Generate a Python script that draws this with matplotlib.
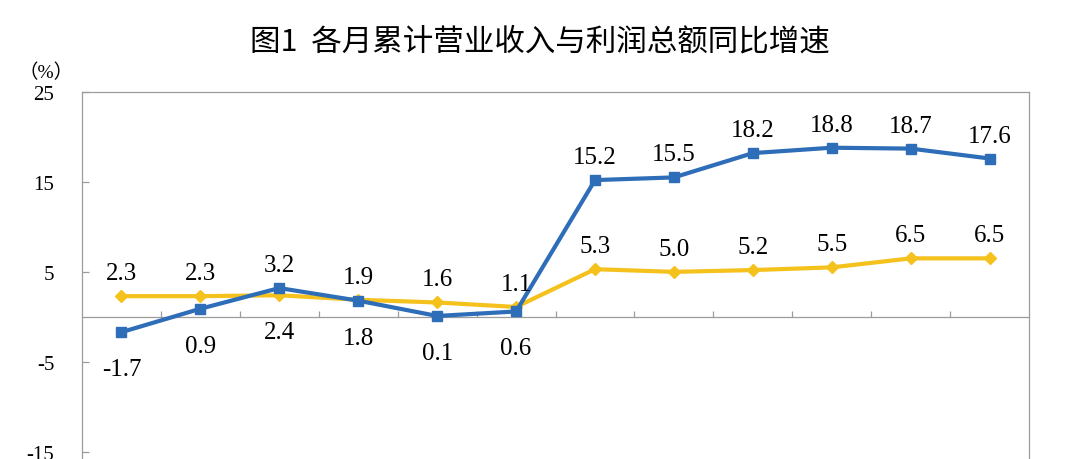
import matplotlib
matplotlib.use("Agg")
import matplotlib.pyplot as plt
import numpy as np

# ---- data ----
months = ["1-2月", "3月", "4月", "5月", "6月", "7月", "8月", "9月", "10月", "11月", "12月", "全年"]
profit = [-1.7, 0.9, 3.2, 1.8, 0.1, 0.6, 15.2, 15.5, 18.2, 18.8, 18.7, 17.6]      # 利润总额
revenue = [2.3, 2.3, 2.4, 1.9, 1.6, 1.1, 5.3, 5.0, 5.2, 5.5, 6.5, 6.5]          # 营业收入
yticks = [25, 15, 5, -5, -15, -25]
title = "图1  各月累计营业收入与利润总额同比增速"
unit = "（%）"

BLUE = "#2E6DB7"
YELLOW = "#F5C11C"
GRAY = "#9C9C9C"
SERIF = ["Liberation Serif", "Noto Sans CJK SC"]

fig = plt.figure(figsize=(10.8, 4.6), dpi=100)
ax = fig.add_axes([0.0759, -0.180, 0.877, 0.978])

x = np.arange(len(months))
ax.plot(x, revenue, color=YELLOW, lw=3, marker="D", ms=6.6, zorder=3)
ax.plot(x, profit, color=BLUE, lw=3, marker="s", ms=7, zorder=4)

ax.set_xlim(-0.5, len(months) - 0.5)
ax.set_ylim(-25, 25)

# spines
for s in ax.spines.values():
    s.set_color(GRAY)
    s.set_linewidth(0.9)
ax.spines["bottom"].set_position(("data", 0))

ax.set_yticks(yticks)
ax.set_yticklabels([str(v) for v in yticks], fontfamily=SERIF, fontsize=15)
ax.tick_params(axis="y", direction="in", length=5, color=GRAY, pad=20, width=0.9)
ax.set_xticks(x[:-1] + 0.5)
ax.set_xticklabels([])
ax.tick_params(axis="x", direction="in", length=4, color=GRAY, width=0.9)

# data labels
for i in range(len(months)):
    p, r = profit[i], revenue[i]
    if i < 6:
        hi_is_p = p > r
        pairs = [(p, 1 if hi_is_p else -1), (r, -1 if hi_is_p else 1)]
    else:
        pairs = [(p, 1), (r, 1)]
    for v, d in pairs:
        off = 23 if d > 0 else -37
        ax.annotate(f"{v:.1f}", (x[i], v), xytext=(0, off), textcoords="offset pixels",
                    ha="center", va="center", fontsize=18, fontfamily=SERIF, color="black",
                    zorder=5)

fig.text(0.5, 0.909, title, ha="center", va="center", fontsize=22,
         fontfamily=["Noto Sans CJK SC", "DejaVu Sans"])
fig.text(0.0426, 0.841, unit, ha="center", va="center", fontsize=14, fontfamily=SERIF)

fig.savefig("out.png", dpi=100)
